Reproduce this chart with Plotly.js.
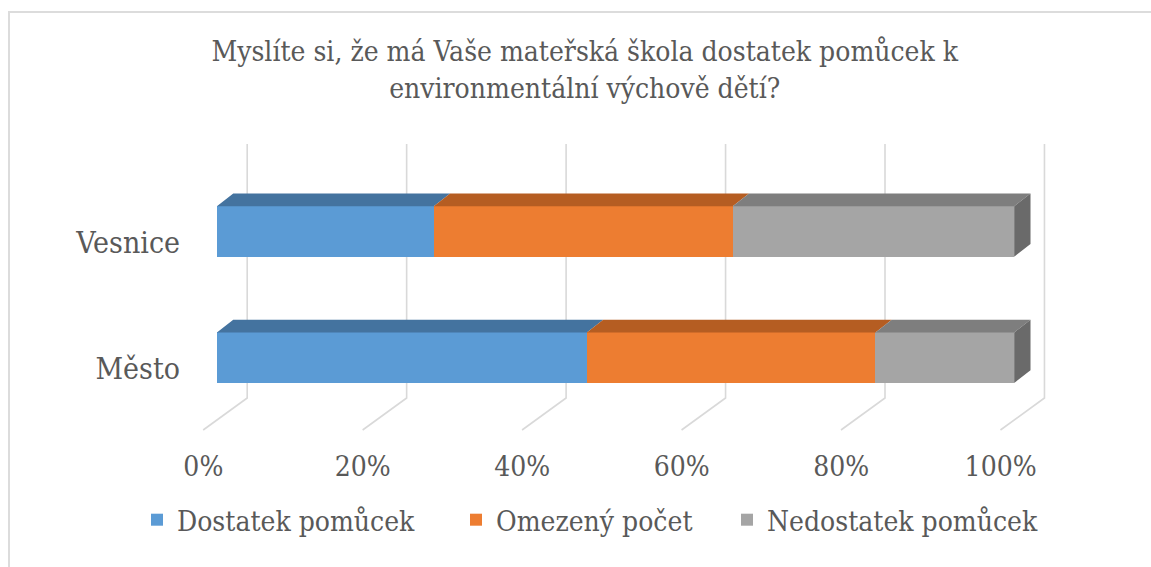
<!DOCTYPE html>
<html><head><meta charset="utf-8">
<script src="https://cdn.plot.ly/plotly-3.0.1.min.js"></script>
<style>
html,body{margin:0;padding:0;background:#fff;overflow:hidden}
#wrap{position:relative;width:1151px;height:567px}
#chart{width:1151px;height:567px}
#frame{position:absolute;left:8px;top:11px;width:1200px;height:600px;border-left:2px solid #dcdcdc;border-top:2px solid #dcdcdc;pointer-events:none}
</style></head><body>
<div id="wrap"><div id="chart"></div><div id="frame"></div></div>
<script>
// ---- data ----
const categories = ['Město', 'Vesnice'];
const seriesNames = ['Dostatek pomůcek', 'Omezený počet', 'Nedostatek pomůcek'];
const dostatek = [46.4, 27.2];
const omezeny = [36.2, 37.5];
const nedostatek = [17.4, 35.3];
const tickValues = [0, 20, 40, 60, 80, 100];
const tickLabels = ['0%', '20%', '40%', '60%', '80%', '100%'];

// ---- styling ----
const FONT = 'DejaVu Serif Condensed';
const TXT = '#595959';
const frontColors = ['#5B9BD5', '#ED7D31', '#A5A5A5'];
const topColors = ['#44739F', '#B55D22', '#7E7E7E'];
const sideColor = '#6A6A6A';
const BW = 0.4;          // bar thickness (category units)
const DX = 2.05, DY = 0.1;   // bar depth offset (axis units)
const GB = 3.8, GF = -1.72;  // gridline back / front-floor x offsets
const GTOP = 1.692, GBACK = -0.319, GFRONT = -0.5725;

// plot geometry
const ML = 100, MR = 20, W = 1151;
const PX0 = 216.9, PXS = 7.9727;           // pixel of 0 %, pixels per %
const XR0 = -(PX0 - ML) / PXS;
const XR1 = XR0 + (W - ML - MR) / PXS;
const YAX_POS = (193 - ML) / (W - ML - MR);

const series = [dostatek, omezeny, nedostatek];
const yIdx = categories.map((c, i) => i);

const traces = [];
series.forEach((vals, s) => {
  traces.push({
    type: 'bar', orientation: 'h', name: seriesNames[s],
    x: vals, y: yIdx, width: BW,
    marker: {color: frontColors[s], line: {width: 0}},
    hoverinfo: 'skip', showlegend: true, legendwidth: [274, 226, 280][s]
  });
});
// top faces
series.forEach((vals, s) => {
  const px = [], py = [];
  vals.forEach((v, i) => {
    let x0 = 0; for (let k = 0; k < s; k++) x0 += series[k][i];
    const x1 = x0 + v, yt = yIdx[i] + BW / 2;
    px.push(x0, x1, x1 + DX, x0 + DX, x0, null);
    py.push(yt, yt, yt + DY, yt + DY, yt, null);
  });
  traces.push({type: 'scatter', mode: 'lines', x: px, y: py, fill: 'toself',
    fillcolor: topColors[s], line: {width: 0, color: topColors[s]},
    hoverinfo: 'skip', showlegend: false});
});
// right side faces
{
  const px = [], py = [];
  yIdx.forEach((yc, i) => {
    let tot = 0; series.forEach(v => tot += v[i]);
    px.push(tot, tot + DX, tot + DX, tot, tot, null);
    py.push(yc - BW / 2, yc - BW / 2 + DY, yc + BW / 2 + DY, yc + BW / 2, yc - BW / 2, null);
  });
  traces.push({type: 'scatter', mode: 'lines', x: px, y: py, fill: 'toself',
    fillcolor: sideColor, line: {width: 0, color: sideColor}, hoverinfo: 'skip', showlegend: false});
}

const shapes = tickValues.map(t => ({
  type: 'path', xref: 'x', yref: 'y', layer: 'below',
  path: `M${t + GB},${GTOP} L${t + GB},${GBACK} L${t + GF},${GFRONT}`,
  line: {color: '#D9D9D9', width: 1.6}
}));

const layout = {
  width: 1151, height: 567,
  margin: {l: ML, r: MR, t: 143, b: 131, pad: 0},
  paper_bgcolor: '#fff', plot_bgcolor: 'rgba(0,0,0,0)',
  font: {family: FONT, color: TXT, size: 28},
  barmode: 'stack', showlegend: true,
  title: {
    text: 'Myslíte si, že má Vaše mateřská škola dostatek pomůcek k<br>environmentální výchově dětí?',
    font: {family: FONT, size: 28, color: TXT},
    xref: 'container', x: 0.508, xanchor: 'center',
    yref: 'container', y: 0.892, yanchor: 'top'
  },
  xaxis: {
    range: [XR0, XR1], showgrid: false, zeroline: false, showline: false, ticks: '',
    tickvals: tickValues.map(t => t - 1.7), ticktext: tickLabels,
    tickfont: {family: FONT, size: 28, color: TXT}, ticklabelstandoff: 11, fixedrange: true
  },
  yaxis: {
    range: [-0.62, 1.7], showgrid: false, zeroline: false, showline: false, ticks: '',
    anchor: 'free', position: YAX_POS,
    tickvals: yIdx.map(v => v - 0.085), ticktext: categories,
    tickfont: {family: FONT, size: 30, color: TXT}, ticklabelstandoff: 13, fixedrange: true
  },
  legend: {
    orientation: 'h', traceorder: 'normal',
    xref: 'container', yref: 'container', x: 137 / 1151, xanchor: 'left',
    y: 1 - 520 / 567, yanchor: 'middle',
    font: {family: FONT, size: 28, color: TXT}, bgcolor: 'rgba(0,0,0,0)'
  },
  shapes: shapes,
  hovermode: false
};
Plotly.newPlot('chart', traces, layout, {displayModeBar: false, staticPlot: true});
</script>
</body></html>
